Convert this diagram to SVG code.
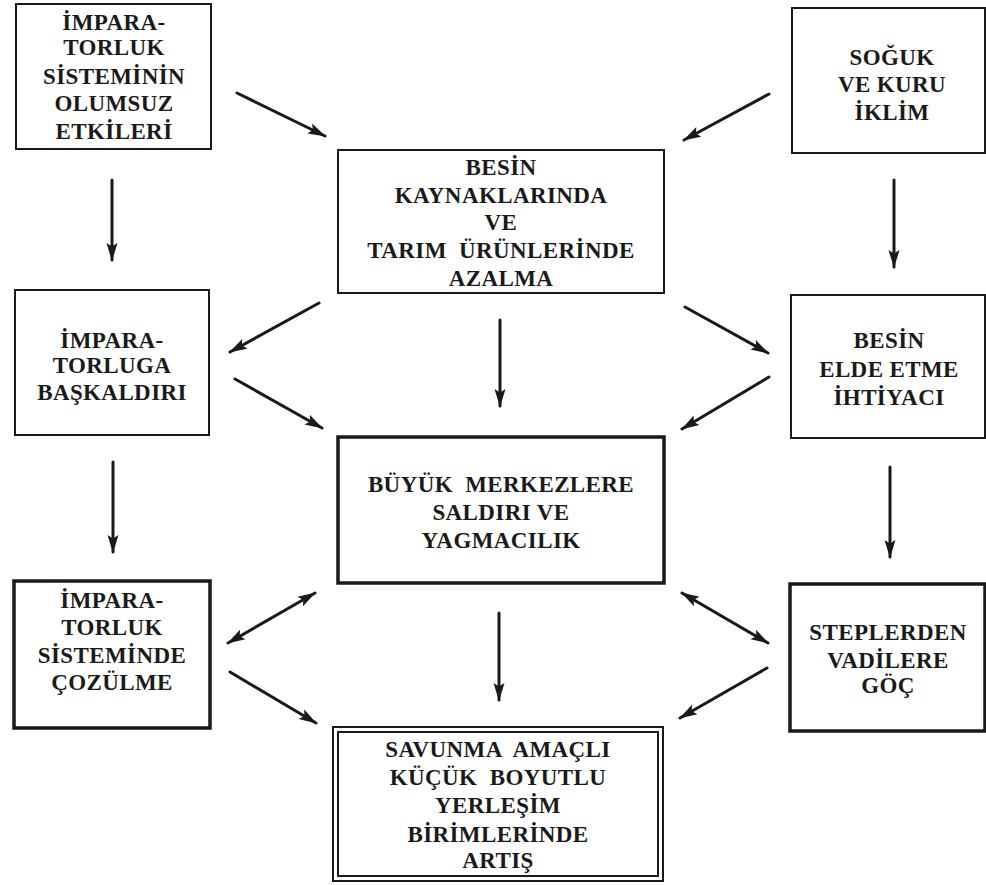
<svg xmlns="http://www.w3.org/2000/svg" width="986" height="885" viewBox="0 0 986 885">
<style>
.box{fill:#fff;stroke:#1a1a1a;stroke-width:2}
.thick{stroke-width:3.5}
.t{font-family:"Liberation Serif","Times New Roman",serif;font-weight:bold;font-size:23px;letter-spacing:0.4px;fill:#1a1a1a;text-anchor:middle;white-space:pre}
.c{fill:none;stroke:#1a1a1a;stroke-width:3;stroke-linecap:round}
</style>
<defs>
<marker id="ah" viewBox="0 0 18 12" refX="17" refY="6" markerWidth="18" markerHeight="12" markerUnits="userSpaceOnUse" orient="auto-start-reverse">
<path d="M0,0.5 L18,6 L0,11.5 L3.5,6 Z" fill="#1a1a1a"/>
</marker>
</defs>
<rect width="986" height="885" fill="#fff"/>
<g id="connectors">
<line class="c" x1="237" y1="93" x2="325" y2="136" marker-end="url(#ah)"/>
<line class="c" x1="769" y1="94" x2="684" y2="140" marker-end="url(#ah)"/>
<line class="c" x1="112" y1="180" x2="112" y2="260" marker-end="url(#ah)"/>
<line class="c" x1="894" y1="180" x2="894" y2="267" marker-end="url(#ah)"/>
<line class="c" x1="319" y1="303" x2="230" y2="352" marker-end="url(#ah)"/>
<line class="c" x1="500" y1="320" x2="500" y2="406" marker-end="url(#ah)"/>
<line class="c" x1="685" y1="307" x2="768" y2="353" marker-end="url(#ah)"/>
<line class="c" x1="235" y1="379" x2="322" y2="428" marker-end="url(#ah)"/>
<line class="c" x1="769" y1="377" x2="682" y2="429" marker-end="url(#ah)"/>
<line class="c" x1="113" y1="462" x2="113" y2="552" marker-end="url(#ah)"/>
<line class="c" x1="890" y1="467" x2="890" y2="557" marker-end="url(#ah)"/>
<line class="c" x1="315" y1="593" x2="228" y2="643" marker-start="url(#ah)" marker-end="url(#ah)"/>
<line class="c" x1="499" y1="613" x2="499" y2="700" marker-end="url(#ah)"/>
<line class="c" x1="682" y1="593" x2="768" y2="643" marker-start="url(#ah)" marker-end="url(#ah)"/>
<line class="c" x1="230" y1="672" x2="316" y2="723" marker-end="url(#ah)"/>
<line class="c" x1="767" y1="668" x2="680" y2="718" marker-end="url(#ah)"/>
</g>
<g id="n1">
<rect class="box" x="16" y="4" width="195" height="145"/>
<text class="t" x="114" y="30">İMPARA-</text>
<text class="t" x="114" y="55">TORLUK</text>
<text class="t" x="114" y="84">SİSTEMİNİN</text>
<text class="t" x="114" y="111">OLUMSUZ</text>
<text class="t" x="114" y="139">ETKİLERİ</text>
</g>
<g id="n2">
<rect class="box" x="792" y="8" width="193" height="145"/>
<text class="t" x="892" y="65">SOĞUK</text>
<text class="t" x="892" y="92">VE KURU</text>
<text class="t" x="892" y="120">İKLİM</text>
</g>
<g id="n3">
<rect class="box" x="338" y="150" width="326" height="143"/>
<text class="t" x="501" y="175">BESİN</text>
<text class="t" x="501" y="203">KAYNAKLARINDA</text>
<text class="t" x="501" y="230">VE</text>
<text class="t" x="501" y="258">TARIM  ÜRÜNLERİNDE</text>
<text class="t" x="501" y="286">AZALMA</text>
</g>
<g id="n4">
<rect class="box" x="15" y="290" width="194" height="145"/>
<text class="t" x="112" y="348">İMPARA-</text>
<text class="t" x="112" y="373">TORLUGA</text>
<text class="t" x="112" y="400">BAŞKALDIRI</text>
</g>
<g id="n5">
<rect class="box" x="791" y="295" width="194" height="143"/>
<text class="t" x="889" y="348">BESİN</text>
<text class="t" x="889" y="377">ELDE ETME</text>
<text class="t" x="889" y="405">İHTİYACI</text>
</g>
<g id="n6">
<rect class="box thick" x="338" y="437" width="326" height="146"/>
<text class="t" x="501" y="492">BÜYÜK  MERKEZLERE</text>
<text class="t" x="501" y="520">SALDIRI VE</text>
<text class="t" x="501" y="548">YAGMACILIK</text>
</g>
<g id="n7">
<rect class="box thick" x="14" y="581" width="196" height="147"/>
<text class="t" x="112" y="608">İMPARA-</text>
<text class="t" x="112" y="635">TORLUK</text>
<text class="t" x="112" y="663">SİSTEMİNDE</text>
<text class="t" x="112" y="690">ÇOZÜLME</text>
</g>
<g id="n8">
<rect class="box thick" x="790" y="584" width="195" height="147"/>
<text class="t" x="888" y="640">STEPLERDEN</text>
<text class="t" x="888" y="668">VADİLERE</text>
<text class="t" x="888" y="693">GÖÇ</text>
</g>
<g id="n9">
<rect class="box" x="333" y="727" width="330" height="154" stroke-width="3"/>
<rect class="box" x="338" y="732" width="320" height="144" stroke-width="1.5"/>
<text class="t" x="498" y="757">SAVUNMA  AMAÇLI</text>
<text class="t" x="498" y="785">KÜÇÜK  BOYUTLU</text>
<text class="t" x="498" y="813">YERLEŞİM</text>
<text class="t" x="498" y="842">BİRİMLERİNDE</text>
<text class="t" x="498" y="868">ARTIŞ</text>
</g>
</svg>
